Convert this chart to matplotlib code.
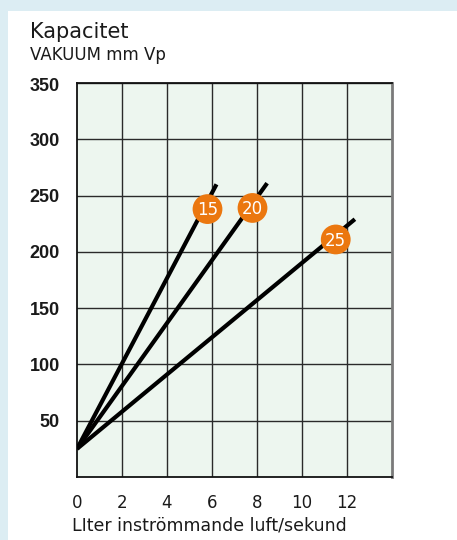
import matplotlib
matplotlib.use('Agg')
import matplotlib.pyplot as plt
import matplotlib.transforms as mtransforms
from matplotlib.patches import Rectangle

# data
models = ['15', '20', '25']
start_flow = [0, 0, 0]
start_vac = [25, 25, 25]
end_flow = [6.2, 8.45, 12.35]
end_vac = [260, 261, 229]
badge_flow = [5.8, 7.8, 11.5]
badge_vac = [238, 239, 211]
x_ticks = [0, 2, 4, 6, 8, 10, 12]
y_ticks = [50, 100, 150, 200, 250, 300, 350]

COLORS = {
    'frame': '#dcedf3',
    'panel': '#ffffff',
    'plot': '#edf6ef',
    'grid': '#2a2a2a',
    'line': '#000000',
    'badge': '#eb770f',
    'text': '#1a1a1a',
}

W, H = 457, 540
fig = plt.figure(figsize=(W / 100, H / 100), dpi=100)
fig.patch.set_facecolor(COLORS['frame'])
fig.patches.append(Rectangle((8 / W, 0), 1, 1 - 11 / H, transform=fig.transFigure,
                             facecolor=COLORS['panel'], edgecolor='none', zorder=-5))

ax = fig.add_axes([77 / W, 1 - 477 / H, 315 / W, 394 / H])
ax.set_facecolor(COLORS['plot'])
ax.set_xlim(0, 14)
ax.set_ylim(0, 350)

for x in x_ticks[1:]:
    ax.axvline(x, color=COLORS['grid'], lw=1.0, zorder=1)
for y in y_ticks:
    ax.axhline(y, color=COLORS['grid'], lw=1.0, zorder=1)

for s in ['left', 'bottom', 'top']:
    ax.spines[s].set_color('#111111')
    ax.spines[s].set_linewidth(1.3)
ax.spines['right'].set_color('#7a7a7a')
ax.spines['right'].set_linewidth(2)

for i, m in enumerate(models):
    ax.plot([start_flow[i], end_flow[i]], [start_vac[i], end_vac[i]],
            color=COLORS['line'], lw=3.0, solid_capstyle='butt', zorder=3)
    ax.scatter(badge_flow[i], badge_vac[i], s=460, color=COLORS['badge'],
               edgecolors='none', zorder=4)
    ax.text(badge_flow[i], badge_vac[i] - 1, m, color='white', fontsize=12,
            family='DejaVu Sans', ha='center', va='center', zorder=5)

ax.set_xticks(x_ticks)
ax.set_xticklabels([str(v) for v in x_ticks], family='DejaVu Sans', fontsize=12,
                   color=COLORS['text'])
ax.tick_params(axis='both', length=0)
ax.tick_params(axis='x', pad=12)

# y labels sit a touch below their gridlines; drawn as text so the top one can shift down
ax.set_yticks(y_ticks)
ax.set_yticklabels([])
ylab_tr = ax.get_yaxis_transform() + mtransforms.ScaledTranslation(-17 / 100, -2 / 100, fig.dpi_scale_trans)
for v in y_ticks:
    ax.text(0, v - (1.5 if v == y_ticks[-1] else 0), str(v), transform=ylab_tr,
            family='Liberation Sans', fontweight='bold', fontsize=13,
            color=COLORS['text'], ha='right', va='center')

fig.text(30 / W, 1 - 32 / H, 'Kapacitet', family='DejaVu Sans', fontsize=15,
         color=COLORS['text'], va='center')
fig.text(30 / W, 1 - 55 / H, 'VAKUUM mm Vp', family='DejaVu Sans', fontsize=12,
         color=COLORS['text'], va='center')
fig.text(72 / W, 1 - 525 / H, 'LIter inströmmande luft/sekund', family='DejaVu Sans',
         fontsize=12.5, color=COLORS['text'], va='center')

fig.savefig('out.png', dpi=100, facecolor=fig.get_facecolor())
